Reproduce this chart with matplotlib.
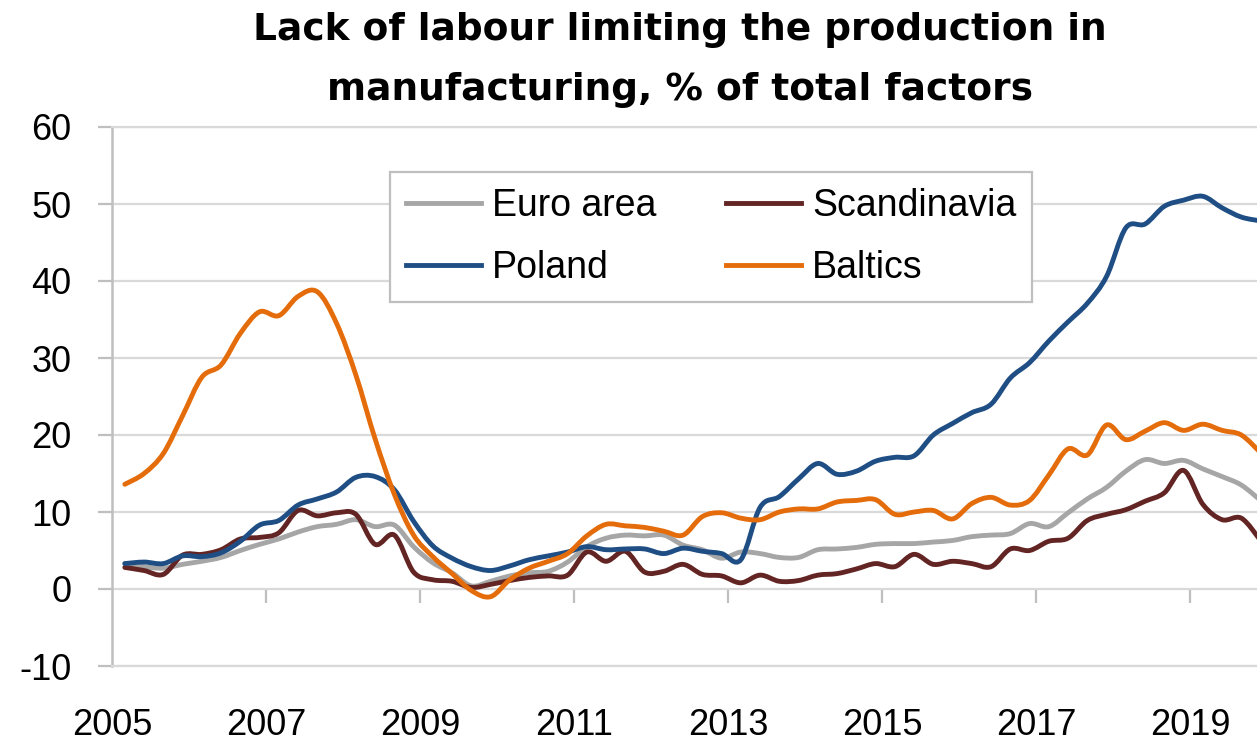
import numpy as np
import matplotlib
matplotlib.use('Agg')
import matplotlib.pyplot as plt
from matplotlib.path import Path
from matplotlib.patches import PathPatch
from matplotlib.lines import Line2D

# quarterly observations (Mar, Jun, Sep, Dec), 2005 - 2019
years = 2005 + (2 + 3 * np.arange(60)) / 12

euro_area = [3.3, 2.9, 2.7, 3.2,
             3.6, 4.1, 5.0, 5.8,
             6.5, 7.4, 8.1, 8.4,
             9.0, 8.1, 8.3, 5.5,
             3.4, 2.1, 0.4, 1.0,
             1.7, 2.1, 2.3, 3.5,
             5.5, 6.6, 7.0, 6.9,
             7.0, 5.7, 5.1, 4.0,
             4.8, 4.6, 4.1, 4.1,
             5.1, 5.2, 5.4, 5.8,
             5.9, 5.9, 6.1, 6.3,
             6.8, 7.0, 7.2, 8.5,
             8.1, 9.9, 11.7, 13.2,
             15.3, 16.8, 16.3, 16.7,
             15.6, 14.6, 13.5, 11.5]

scandinavia = [2.8, 2.4, 1.9, 4.4,
               4.5, 5.1, 6.5, 6.7,
               7.3, 10.2, 9.5, 9.9,
               9.7, 5.8, 7.0, 2.2,
               1.2, 1.0, 0.2, 0.6,
               1.1, 1.5, 1.7, 1.8,
               4.8, 3.6, 4.9, 2.2,
               2.3, 3.2, 1.9, 1.7,
               0.8, 1.8, 1.0, 1.1,
               1.8, 2.0, 2.6, 3.3,
               2.9, 4.5, 3.2, 3.6,
               3.3, 2.9, 5.2, 5.0,
               6.2, 6.6, 8.9, 9.7,
               10.3, 11.4, 12.5, 15.4,
               11.0, 9.0, 9.2, 6.3]

poland = [3.3, 3.5, 3.3, 4.3,
          4.2, 4.7, 6.2, 8.3,
          8.9, 10.9, 11.7, 12.6,
          14.5, 14.6, 12.9, 8.8,
          5.6, 4.0, 2.9, 2.4,
          3.0, 3.8, 4.3, 4.8,
          5.5, 5.1, 5.2, 5.2,
          4.6, 5.3, 4.9, 4.6,
          3.8, 10.6, 12.0, 14.3,
          16.3, 14.9, 15.3, 16.6,
          17.1, 17.3, 20.0, 21.5,
          22.9, 24.0, 27.4, 29.4,
          32.2, 34.7, 37.1, 40.6,
          46.9, 47.4, 49.7, 50.5,
          51.0, 49.5, 48.3, 47.8]

baltics = [13.6, 15.0, 17.6, 22.5,
           27.5, 29.1, 33.2, 36.0,
           35.5, 38.0, 38.6, 34.5,
           27.8, 19.5, 12.3, 7.0,
           4.2, 2.0, -0.2, -1.0,
           1.2, 2.7, 3.6, 4.6,
           6.9, 8.4, 8.2, 8.0,
           7.5, 7.0, 9.4, 9.9,
           9.2, 9.0, 10.0, 10.4,
           10.4, 11.3, 11.5, 11.6,
           9.7, 10.0, 10.2, 9.1,
           11.1, 11.9, 10.9, 11.5,
           14.8, 18.2, 17.4, 21.3,
           19.4, 20.5, 21.6, 20.6,
           21.4, 20.6, 20.0, 17.7]

year_ticks = [2005, 2007, 2009, 2011, 2013, 2015, 2017, 2019]
y_ticks = [-10, 0, 10, 20, 30, 40, 50, 60]

GRID = '#d9d9d9'
AXIS = '#bfbfbf'
LW = 3.5

plt.rcParams['font.family'] = ['Liberation Sans', 'DejaVu Sans']
plt.rcParams['axes.unicode_minus'] = False


def smooth_line(ax, x, y, color):
    # Excel-style smoothed line: cubic bezier through every observation
    x = np.asarray(x, float)
    y = np.asarray(y, float)
    n = len(x)
    verts = [(x[0], y[0])]
    codes = [Path.MOVETO]
    for i in range(n - 1):
        a = max(i - 1, 0)
        b = min(i + 2, n - 1)
        c1 = (x[i] + (x[i + 1] - x[a]) / 6, y[i] + (y[i + 1] - y[a]) / 6)
        c2 = (x[i + 1] - (x[b] - x[i]) / 6, y[i + 1] - (y[b] - y[i]) / 6)
        verts += [c1, c2, (x[i + 1], y[i + 1])]
        codes += [Path.CURVE4] * 3
    patch = PathPatch(Path(verts, codes), facecolor='none', edgecolor=color,
                      lw=LW, joinstyle='round', capstyle='round')
    ax.add_patch(patch)
    return Line2D([], [], color=color, lw=LW)


fig = plt.figure(figsize=(12.57, 7.41), dpi=100)
ax = fig.add_axes([112 / 1257, 75 / 741, 1145 / 1257, 539 / 741])

h_euro = smooth_line(ax, years, euro_area, '#a6a6a6')
h_scan = smooth_line(ax, years, scandinavia, '#632523')
h_pol = smooth_line(ax, years, poland, '#1f4e85')
h_balt = smooth_line(ax, years, baltics, '#e46c0a')

ax.set_xlim(2005, 2005 + 1145 / 77)
ax.set_ylim(-10, 60)
ax.set_yticks(y_ticks)
ax.set_xticks(year_ticks)
ax.set_xticklabels([str(y) for y in year_ticks])

ax.grid(axis='y', color=GRID, lw=1.6)
ax.set_axisbelow(True)
for side in ['top', 'bottom']:
    ax.spines[side].set_color(GRID)
    ax.spines[side].set_linewidth(1.6)
ax.spines['right'].set_visible(False)
ax.spines['left'].set_color(AXIS)
ax.spines['left'].set_linewidth(1.8)

ax.tick_params(axis='y', length=10, width=1.6, color=AXIS, pad=19, labelsize=26)
ax.tick_params(axis='x', length=0, pad=30, labelsize=26)

# tick marks sit on the zero line, labels stay at the bottom
zero_axis = ax.secondary_xaxis(1 / 7)
zero_axis.set_xticks(year_ticks[1:])
zero_axis.set_xticklabels([])
zero_axis.tick_params(length=10, width=1.6, color=AXIS, direction='out')
zero_axis.spines['bottom'].set_visible(False)

leg = ax.legend(handles=[h_euro, h_pol, h_scan, h_balt],
                labels=['Euro area', 'Poland', 'Scandinavia', 'Baltics'], ncol=2,
                loc='upper left', bbox_to_anchor=(390 / 1257, 1 - 172 / 741),
                bbox_transform=fig.transFigure, borderaxespad=0,
                fontsize=27, handlelength=2.0, handletextpad=0.3,
                columnspacing=1.85, borderpad=0.42, labelspacing=0.7,
                frameon=True, fancybox=False, framealpha=1)
leg.get_frame().set_edgecolor(AXIS)
leg.get_frame().set_linewidth(1.6)

fig.text(680 / 1257, 1 - 60 / 741,
         'Lack of labour limiting the production in\nmanufacturing, % of total factors',
         ha='center', va='center', fontsize=27, fontweight='bold',
         family='DejaVu Sans', linespacing=1.85)

fig.savefig('out.png', dpi=100)
